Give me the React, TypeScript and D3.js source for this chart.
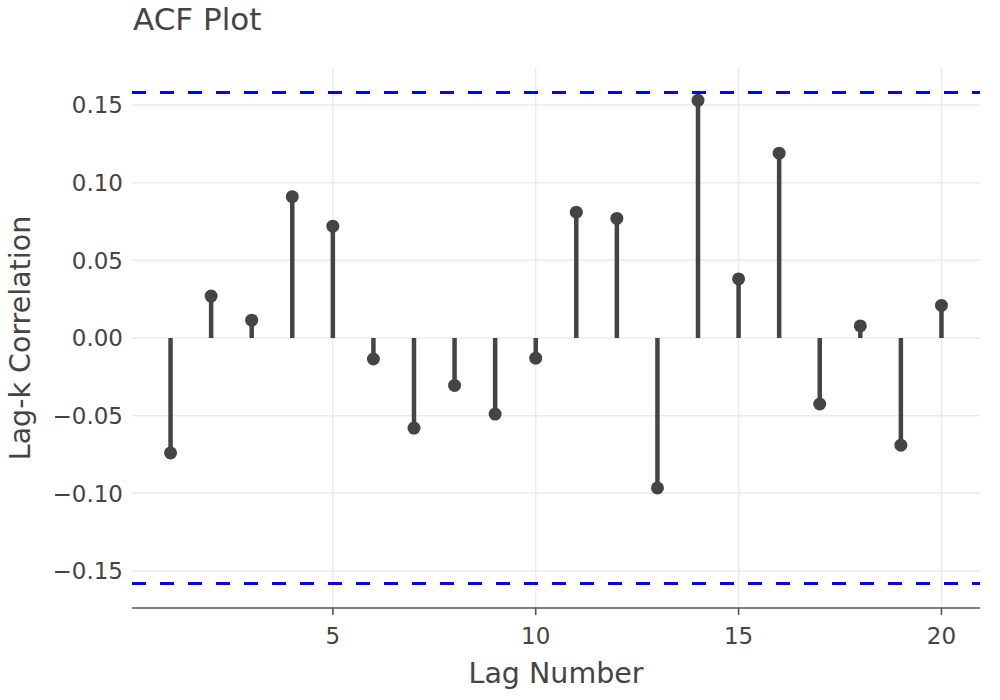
import React from "react";
import * as d3 from "d3";

const lags = [1, 2, 3, 4, 5, 6, 7, 8, 9, 10, 11, 12, 13, 14, 15, 16, 17, 18, 19, 20];
const acf = [-0.074, 0.027, 0.0115, 0.091, 0.072, -0.0135, -0.058, -0.0305, -0.049, -0.013, 0.081, 0.077, -0.0965, 0.153, 0.038, 0.119, -0.0425, 0.0078, -0.069, 0.021];
const bound = 0.158;
const yTicks = [-0.15, -0.1, -0.05, 0, 0.05, 0.1, 0.15];
const xTicks = [5, 10, 15, 20];
const title = "ACF Plot";
const xTitle = "Lag Number";
const yTitle = "Lag-k Correlation";

const W = 1000, H = 700;
const left = 132, right = 980, top = 68, bottom = 608;
const font = "'DejaVu Sans', sans-serif";
const ink = "#444444";

export default function App() {
  const xPad = (d3.max(lags)! - d3.min(lags)!) * 0.05;
  const x = d3.scaleLinear().domain([d3.min(lags)! - xPad, d3.max(lags)! + xPad]).range([left, right]);
  const yPad = bound * 2 * 0.05;
  const y = d3.scaleLinear().domain([-bound - yPad, bound + yPad]).range([bottom, top]);
  const fmt = d3.format(".2f");
  const fmtY = (v: number) => fmt(v).replace("-", "\u2212");
  return (
    <svg width={W} height={H} style={{ position: "absolute", left: 0, top: 0, background: "#fff" }}>
      {yTicks.map((t) => (
        <line key={"gy" + t} x1={left} x2={right} y1={y(t)} y2={y(t)} stroke="#ebebeb" strokeWidth={1.5} />
      ))}
      {xTicks.map((t) => (
        <line key={"gx" + t} x1={x(t)} x2={x(t)} y1={top} y2={bottom} stroke="#ebebeb" strokeWidth={1.5} />
      ))}
      {[bound, -bound].map((b) => (
        <line key={"b" + b} x1={left} x2={right} y1={y(b)} y2={y(b)} stroke="#0000ff" strokeWidth={3} strokeDasharray="14,14" />
      ))}
      {lags.map((l, i) => (
        <g key={"s" + l}>
          <line x1={x(l)} x2={x(l)} y1={y(0)} y2={y(acf[i])} stroke={ink} strokeWidth={4.5} />
          <circle cx={x(l)} cy={y(acf[i])} r={6.5} fill={ink} />
        </g>
      ))}
      <line x1={left} x2={right} y1={bottom} y2={bottom} stroke="#555" strokeWidth={1.6} />
      {xTicks.map((t) => (
        <g key={"tx" + t}>
          <line x1={x(t)} x2={x(t)} y1={bottom} y2={bottom + 7} stroke="#555" strokeWidth={1.6} />
          <text x={x(t)} y={bottom + 36} textAnchor="middle" fontFamily={font} fontSize={23} fill={ink}>{t}</text>
        </g>
      ))}
      {yTicks.map((t) => (
        <text key={"ty" + t} x={left - 9} y={y(t)} dy="0.36em" textAnchor="end" fontFamily={font} fontSize={23} fill={ink}>{fmtY(t)}</text>
      ))}
      <text x={left + 1} y={30} fontFamily={font} fontSize={31} fill={ink}>{title}</text>
      <text x={(left + right) / 2} y={683} textAnchor="middle" fontFamily={font} fontSize={28.5} fill={ink}>{xTitle}</text>
      <text transform={`translate(30,${(top + bottom) / 2}) rotate(-90)`} textAnchor="middle" fontFamily={font} fontSize={28.5} fill={ink}>{yTitle}</text>
    </svg>
  );
}
